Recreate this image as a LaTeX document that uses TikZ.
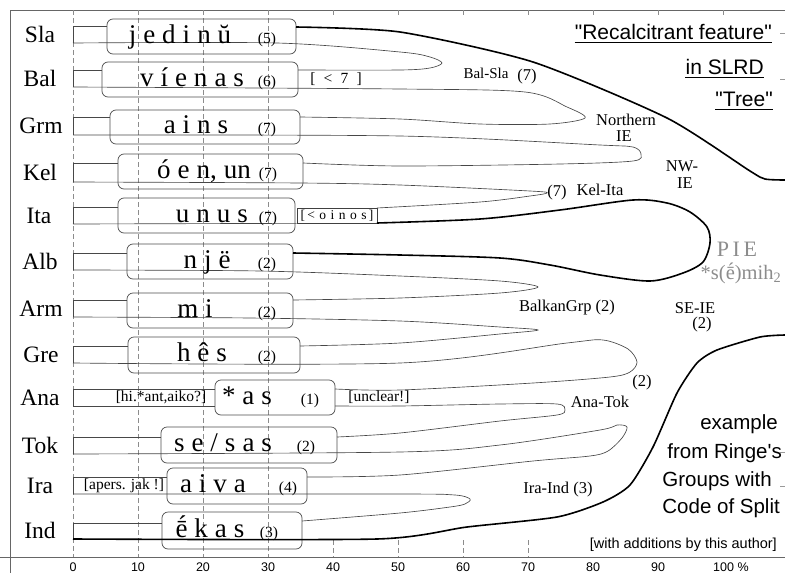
\documentclass[tikz,border=0pt]{standalone}
\usepackage{fontspec}
\setmainfont{Liberation Serif}
\setsansfont{Liberation Sans}
\newfontfamily\plainsans{Liberation Sans}
\newcommand{\gp}{\hspace{7pt}}
\begin{document}
\begin{tikzpicture}[x=1pt,y=-1pt,
  thinln/.style={draw=black!72,line width=0.65pt},
  thickln/.style={draw=black,line width=1.6pt},
  gridln/.style={draw=black!45,line width=0.5pt,dash pattern=on 5pt off 3pt},
  frameln/.style={draw=black!60,line width=0.8pt},
  wbox/.style={draw=black!70,line width=0.7pt,rounded corners=6pt,inner sep=0pt},
  lang/.style={font=\fontsize{23.5}{25}\selectfont,anchor=base},
  word/.style={font=\fontsize{27}{29}\selectfont,anchor=base},
  cnt/.style={font=\fontsize{15.5}{16}\selectfont,anchor=base},
  note/.style={font=\fontsize{15.5}{17}\selectfont,inner sep=0pt},
  grp/.style={font=\fontsize{16.5}{17}\selectfont,inner sep=0pt},
  pie/.style={text=black!45,inner sep=0pt},
  ttl/.style={font=\plainsans\fontsize{21}{23}\selectfont,anchor=base east,inner sep=0pt},
  side/.style={font=\plainsans\fontsize{20.5}{22}\selectfont,anchor=base east,inner sep=0pt},
  axl/.style={font=\sffamily\fontsize{12.5}{14}\selectfont,anchor=base,inner sep=0pt}
]
\useasboundingbox (0,0) rectangle (785,573);
% frame and axis
\draw[frameln] (10,573) -- (10,10) -- (785,10);
\draw[frameln] (0,557) -- (785,557);
% grid
\foreach \gx in {73,138,203,268} {\draw[gridln] (\gx,10) -- (\gx,557);}
\foreach \gx in {333,398,463,528,593,658,723} {\draw[gridln] (\gx,10) -- (\gx,16);}
\foreach \gx in {333,398,463,528} {\draw[gridln] (\gx,540) -- (\gx,557);}
\foreach \gy in {33,79,452,486} {\draw[draw=black!40,line width=0.5pt] (780,\gy) -- (785,\gy);}
% axis labels
\foreach \v/\gx in {0/73,10/138,20/203,30/268,40/333,50/398,60/463,70/528,80/593,90/658} {\node[axl] at (\gx,571) {\v};}
\node[axl,anchor=base west] at (713,571) {100 \%};
% band closers at 0
\foreach \a/\b in {26/43,70/87,117/135,163/182,207/224,253/270,300/317,346/363,389/406,437/454,477/494,523/539} {\draw[thinln] (73,\a) -- (73,\b);}
% boxes
\node[wbox,minimum width=189pt,minimum height=35pt] (bsla) at (201.5,36.5) {};
\node[wbox,minimum width=196pt,minimum height=35pt] (bbal) at (200,79.5) {};
\node[wbox,minimum width=190pt,minimum height=34pt] (bgrm) at (205,127) {};
\node[wbox,minimum width=185pt,minimum height=35pt] (bkel) at (210.5,171.5) {};
\node[wbox,minimum width=177pt,minimum height=35pt] (bita) at (206.5,215.5) {};
\node[wbox,minimum width=166pt,minimum height=35pt] (balb) at (210,261.5) {};
\node[wbox,minimum width=166pt,minimum height=35pt] (barm) at (210,310.5) {};
\node[wbox,minimum width=172pt,minimum height=36pt] (bgre) at (214,355) {};
\node[wbox,minimum width=120pt,minimum height=35pt] (bana) at (275,397.5) {};
\node[wbox,minimum width=176pt,minimum height=36pt] (btok) at (249,445) {};
\node[wbox,minimum width=140pt,minimum height=36pt] (bira) at (237,486) {};
\node[wbox,minimum width=140pt,minimum height=37pt] (bind) at (232,530.5) {};
\node[draw=black!75,line width=0.7pt,minimum width=80pt,minimum height=15pt,inner sep=0pt,font=\fontsize{13.5}{14}\selectfont] (oinos) at (337,215.5) {[\,<\,\,o\,\,i\,\,n\,\,o\,\,s\,]};
% left parts of top lines
\draw[thinln] (73,26) -- (bsla.west |- 0,26);
\draw[thinln] (73,70) -- (bbal.west |- 0,70);
\draw[thinln] (73,117) -- (bgrm.west |- 0,117);
\draw[thinln] (73,163) -- (bkel.west |- 0,163);
\draw[thinln] (73,207) -- (bita.west |- 0,207);
\draw[thinln] (73,224) -- (oinos.south west);
\draw[thinln] (73,253) -- (balb.west |- 0,253);
\draw[thinln] (73,300) -- (barm.west |- 0,300);
\draw[thinln] (73,346) -- (bgre.west |- 0,346);
\draw[thinln] (73,389) -- (bana.west |- 0,389);
\draw[thinln] (73,406) -- (bana.west |- 0,406);
\draw[thinln] (73,437) -- (btok.west |- 0,437);
\draw[thinln] (73,477) -- (bira.west |- 0,477);
\draw[thinln] (73,523) -- (bind.west |- 0,523);
% outer thick contour top
\draw[thickln] plot[smooth,tension=0.4] coordinates {(296,27) (400,32) (533,62) (667,118) (750,171) (765,179) (785,180)};
% Bal-Sla
\draw[thinln] plot[smooth,tension=0.5] coordinates {(73,43) (277,43) (400,52) (430,57) (442,63) (430,68) (400,70) (298,70)};
% Northern IE
\draw[thinln] plot[smooth,tension=0.5] coordinates {(73,87) (400,89) (525,92) (567,107) (585,118) (550,124) (480,124) (400,119) (300,117)};
% Grm-Kel
\draw[thinln] plot[smooth,tension=0.5] coordinates {(73,135) (400,136) (600,145) (633,147) (641,154) (633,161) (560,164) (400,166) (303,163)};
% Kel-Ita
\draw[thinln] plot[smooth,tension=0.5] coordinates {(73,182) (300,183) (400,185) (530,191) (547,193) (530,196) (480,202) (377,208)};
% PIE loop
\draw[thickln] plot[smooth,tension=0.5] coordinates {(377,223) (480,219) (560,210) (633,200) (667,203) (690,212) (707,227) (710,243) (703,262) (683,273) (650,281) (600,275) (550,265) (500,258) (400,255) (293,253)};
% Alb-Arm
\draw[thinln] plot[smooth,tension=0.5] coordinates {(73,270) (260,271) (400,276) (500,281) (538,287) (500,293) (400,298) (293,300)};
% Arm-Gre
\draw[thinln] plot[smooth,tension=0.5] coordinates {(73,317) (250,318) (400,321) (500,327) (538,330) (500,334) (400,343) (300,346)};
% Gre-Ana
\draw[thinln] plot[smooth,tension=0.5] coordinates {(73,363) (400,363) (567,343) (603,340) (628,349) (637,362) (630,372) (610,377) (533,383) (400,390) (335,389)};
% Ana-Tok
\draw[thinln] plot[smooth,tension=0.5] coordinates {(335,406) (400,406) (500,404) (557,404) (565,410) (557,415) (500,421) (400,433) (337,437)};
% Tok-Ira
\draw[thinln] plot[smooth,tension=0.5] coordinates {(73,454) (400,452) (500,445) (600,430) (617,425) (627,427) (622,438) (608,451) (590,456) (533,461) (400,475) (307,477)};
% Ira-Ind
\draw[thinln] plot[smooth,tension=0.5] coordinates {(73,494) (400,494) (455,495) (470,499) (465,504) (450,507) (400,513) (302,521)};
% outer thick contour bottom
\draw[thickln] plot[smooth,tension=0.4] coordinates {(73,539) (377,539) (467,527) (557,517) (603,502) (630,485) (653,447) (677,393) (697,363) (717,350) (760,337) (785,335)};
% language labels
\node[lang] (lsla) at (40,42) {Sla};
\node[lang] (lbal) at (40,86) {Bal};
\node[lang] (lgrm) at (41,133.5) {Grm};
\node[lang] (lkel) at (40,180) {Kel};
\node[lang] (lita) at (39,223) {Ita};
\node[lang] (lalb) at (40,269) {Alb};
\node[lang] (larm) at (41,316) {Arm};
\node[lang] (lgre) at (41,362) {Gre};
\node[lang] (lana) at (40,405) {Ana};
\node[lang] (ltok) at (40,453) {Tok};
\node[lang] (lira) at (40,493) {Ira};
\node[lang] (lind) at (40,538.5) {Ind};
% words and counts
\node[word] (wsla) at (180,43) {j\gp e\gp d\gp i\gp n\gp ŭ};
\node[cnt] (csla) at (267,43) {(5)};
\node[word] (wbal) at (192,86) {v\gp í\gp e\gp n\gp a\gp s};
\node[cnt] (cbal) at (267,86) {(6)};
\node[note] (nbal) at (336,79) {[\; < \;7\; ]};
\node[word] (wgrm) at (196,133) {a\gp i\gp n\gp s};
\node[cnt] (cgrm) at (267,133) {(7)};
\node[word] (wkel) at (204,178) {ó\gp e\gp n,\gp un};
\node[cnt] (ckel) at (268,178) {(7)};
\node[word] (wita) at (212,222) {u\gp n\gp u\gp s};
\node[cnt] (cita) at (268,222) {(7)};
\node[word] (walb) at (207,268) {n\gp j\gp ë};
\node[cnt] (calb) at (267,268) {(2)};
\node[word] (warm) at (195,317) {m\gp i};
\node[cnt] (carm) at (267,317) {(2)};
\node[word] (wgre) at (202,361.5) {h\gp ê\gp s};
\node[cnt] (cgre) at (267,361.5) {(2)};
\node[word] (wana) at (247,404) {*\gp a\gp s};
\node[cnt] (cana) at (310,404) {(1)};
\node[note] (nana1) at (161,397.5) {[hi.*ant,aiko?]};
\node[note] (nana2) at (379,397.5) {[unclear!]};
\node[word] (wtok) at (223,451.5) {s\gp e\gp /\gp s\gp a\gp s};
\node[cnt] (ctok) at (306,451.5) {(2)};
\node[word] (wira) at (213,492.5) {a\gp i\gp v\gp a};
\node[cnt] (cira) at (288,492.5) {(4)};
\node[note] (nira) at (124,485.5) {[apers. jak !]};
\node[word] (wind) at (210,537) {ḗ\gp k\gp a\gp s};
\node[cnt] (cind) at (269,537) {(3)};
% group labels
\node[grp,font=\fontsize{15}{16}\selectfont] (gbs) at (486,73) {Bal-Sla};
\node[grp] (gbs7) at (527,77) {(7)};
\node[grp] (gn1) at (626,120) {Northern};
\node[grp] (gn2) at (624,136) {IE};
\node[grp] (gki7) at (557,193) {(7)};
\node[grp] (gki) at (600,190) {Kel-Ita};
\node[grp] (gnw1) at (682,166) {NW-};
\node[grp] (gnw2) at (685,183) {IE};
\node[pie,font=\fontsize{22}{24}\selectfont] (gpie) at (737,249) {P\,I\,E};
\node[pie,font=\fontsize{20.5}{22}\selectfont] (gsem) at (741,273) {*s(ḗ)mih\textsubscript{2}};
\node[grp] (gbk) at (567,308) {BalkanGrp (2)};
\node[grp] (gse1) at (695,308) {SE-IE};
\node[grp] (gse2) at (702,325) {(2)};
\node[grp] (gga) at (642,383) {(2)};
\node[grp] (gat) at (600,402) {Ana-Tok};
\node[grp] (gii) at (558,490) {Ira-Ind (3)};
% title
\node[ttl] (t1) at (772,39) {"Recalcitrant feature"};
\node[ttl] (t2) at (764,74) {in SLRD};
\node[ttl] (t3) at (773,106) {"Tree"};
\foreach \t in {t1,t2,t3} {\draw[line width=1.2pt] ([yshift=-3.5pt]\t.base west) -- ([yshift=-3.5pt]\t.base east);}
% side text
\node[side] (s1) at (778,429) {example};
\node[side] (s2) at (782,458) {from Ringe's};
\node[side] (s3) at (772,486) {Groups with};
\node[side] (s4) at (780,513) {Code of Split};
\node[font=\sffamily\fontsize{14.5}{16}\selectfont,anchor=base east,inner sep=0pt] (s5) at (777,548) {[with additions by this author]};
\end{tikzpicture}
\end{document}
